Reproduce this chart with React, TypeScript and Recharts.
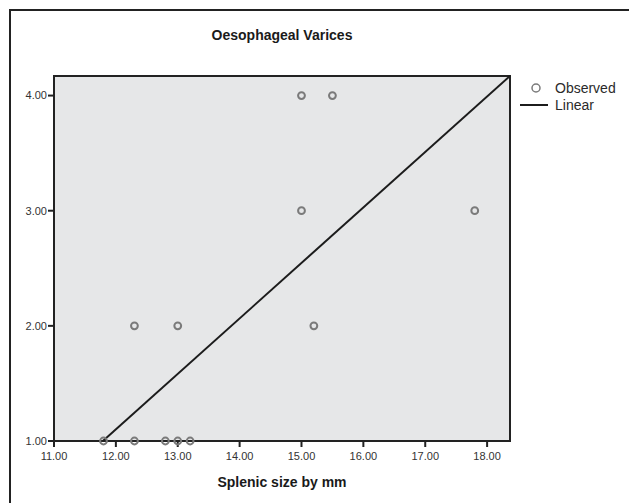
import React from "react";
import {
  ComposedChart,
  Scatter,
  XAxis,
  YAxis,
  ReferenceArea,
  Legend,
} from "recharts";

// Observed data: splenic size (mm) vs oesophageal varices grade
const splenicSize = [11.8, 12.3, 12.3, 12.8, 13.0, 13.0, 13.2, 15.0, 15.5, 15.0, 15.2, 17.8];
const varicesGrade = [1, 1, 2, 1, 1, 2, 1, 4, 4, 3, 2, 3];

// Linear fit endpoints (as drawn, clipped to the plot frame)
const fitX = [11.79, 18.37];
const fitY = [1.0, 4.17];

const xTicks = [11, 12, 13, 14, 15, 16, 17, 18];
const yTicks = [1, 2, 3, 4];
const xDomain = [11, 18.37];
const yDomain = [1, 4.17];

const observed = splenicSize.map((x, i) => ({ x, y: varicesGrade[i] }));
const linear = fitX.map((x, i) => ({ x, y: fitY[i] }));

const FONT = '"Liberation Sans", Arial, Helvetica, sans-serif';
const DARK = "#222222";

const ObservedDot = (props: any) => {
  const { cx, cy } = props;
  if (cx == null || cy == null) return <g />;
  return (
    <circle cx={cx} cy={cy} r={3.4} fill="none" stroke="#7a7a7a" strokeWidth={2} />
  );
};

const NoDot = () => <g />;

const LegendContent = () => (
  <svg width={112} height={42} style={{ display: "block", overflow: "visible" }}>
    <circle cx={19} cy={9} r={4} fill="none" stroke="#7a7a7a" strokeWidth={1.5} />
    <text x={38} y={9} dominantBaseline="central" fontSize={14} fill="#2a2a2a" fontFamily={FONT}>
      Observed
    </text>
    <line x1={3} y1={26} x2={31} y2={26} stroke="#1c1c1c" strokeWidth={2} />
    <text x={38} y={26} dominantBaseline="central" fontSize={14} fill="#2a2a2a" fontFamily={FONT}>
      Linear
    </text>
  </svg>
);

export default function App() {
  return (
    <div
      style={{
        position: "absolute",
        left: 0,
        top: 0,
        width: 629,
        height: 503,
        overflow: "hidden",
        background: "#ffffff",
        fontFamily: FONT,
      }}
    >
      <div
        style={{
          position: "absolute",
          left: 9,
          top: 9,
          width: 700,
          height: 600,
          borderLeft: `2px solid ${DARK}`,
          borderTop: `2px solid ${DARK}`,
        }}
      />
      <div
        style={{
          position: "absolute",
          left: 54,
          width: 456,
          top: 27,
          lineHeight: "16px",
          textAlign: "center",
          fontSize: 14,
          fontWeight: "bold",
          color: "#1a1a1a",
        }}
      >
        Oesophageal Varices
      </div>
      <ComposedChart
        width={629}
        height={503}
        margin={{ top: 76, right: 119, bottom: 0, left: 0 }}
        style={{ position: "absolute", left: 0, top: 0 }}
      >
        <XAxis
          type="number"
          dataKey="x"
          domain={xDomain}
          ticks={xTicks}
          interval={0}
          height={62}
          tickSize={6}
          tickMargin={5}
          tickFormatter={(v: number) => v.toFixed(2)}
          axisLine={{ stroke: DARK, strokeWidth: 2 }}
          tickLine={{ stroke: DARK, strokeWidth: 2 }}
          tick={{ fontSize: 11, fill: "#333333", fontFamily: FONT }}
          label={{
            value: "Splenic size by mm",
            position: "insideBottom",
            offset: 16,
            style: { fontSize: 14, fontWeight: "bold", fill: "#1a1a1a", fontFamily: FONT },
          }}
        />
        <YAxis
          type="number"
          dataKey="y"
          domain={yDomain}
          ticks={yTicks}
          interval={0}
          width={54}
          tickSize={6}
          tickMargin={1}
          tickFormatter={(v: number) => v.toFixed(2)}
          axisLine={{ stroke: DARK, strokeWidth: 2 }}
          tickLine={{ stroke: DARK, strokeWidth: 2 }}
          tick={{ fontSize: 11, fill: "#333333", fontFamily: FONT }}
        />
        <ReferenceArea
          x1={xDomain[0]}
          x2={xDomain[1]}
          y1={yDomain[0]}
          y2={yDomain[1]}
          fill="#e6e7e8"
          fillOpacity={1}
          stroke={DARK}
          strokeWidth={2}
        />
        <Scatter
          name="Linear"
          data={linear}
          line={{ stroke: "#1c1c1c", strokeWidth: 2 }}
          shape={NoDot}
          isAnimationActive={false}
        />
        <Scatter
          name="Observed"
          data={observed}
          shape={ObservedDot}
          isAnimationActive={false}
        />
        <Legend
          layout="vertical"
          align="center"
          verticalAlign="middle"
          content={LegendContent}
          wrapperStyle={{ position: "absolute", left: 517, top: 79, width: 112, height: 42 }}
        />
      </ComposedChart>
    </div>
  );
}
